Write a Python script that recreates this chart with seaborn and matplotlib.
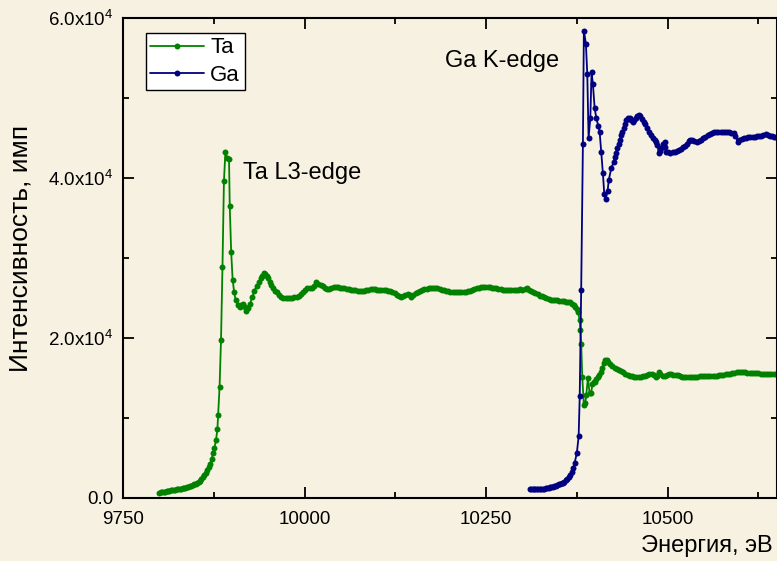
import matplotlib
matplotlib.use("Agg")
import matplotlib.pyplot as plt
from matplotlib.ticker import MultipleLocator, FuncFormatter
import pandas as pd
import seaborn as sns

# Ta L3-edge scan: (energy, eV; intensity, counts)
ta_points = [
    (9800, 660), (9802, 690), (9804, 720), (9806, 760), (9808, 800), (9810, 840),
    (9812, 880), (9814, 910), (9816, 940), (9818, 980), (9820, 1020), (9822, 1060),
    (9824, 1100), (9826, 1130), (9828, 1150), (9830, 1170), (9832, 1200), (9834, 1240),
    (9836, 1290), (9838, 1350), (9840, 1400), (9842, 1460), (9844, 1520), (9846, 1600),
    (9848, 1690), (9850, 1800), (9852, 1920), (9854, 2050), (9856, 2180), (9858, 2350),
    (9860, 2580), (9862, 2820), (9864, 3100), (9866, 3450), (9868, 3850), (9870, 4300),
    (9872, 4850), (9874, 5600), (9876, 6300), (9878, 7200), (9880, 8600), (9881, 10400),
    (9883, 13900), (9885, 19800), (9887, 28900), (9889, 39600), (9891, 43200),
    (9893.5, 42500), (9896, 42400), (9897, 36500), (9899, 30700), (9901, 27300),
    (9903, 25800), (9905, 24800), (9908, 24100), (9911, 23900), (9913, 24100),
    (9915.5, 24300), (9918, 23900), (9920, 23400), (9922, 23700), (9925, 24300),
    (9928, 25100), (9931, 25900), (9934, 26500), (9937, 27000), (9940, 27500),
    (9942, 27800), (9944, 28100), (9946, 28000), (9948, 27800), (9950, 27500),
    (9952, 27000), (9954, 26600), (9956, 26200), (9959, 25900), (9962, 25700),
    (9965, 25400), (9968, 25150), (9971, 25000), (9974, 24950), (9977, 24950),
    (9980, 25000), (9983, 25050), (9986, 25100), (9989, 25150), (9992, 25200),
    (9995, 25450), (9998, 25800), (10001, 26000), (10004, 26250), (10007, 26300),
    (10010, 26200), (10013, 26450), (10016, 26950), (10019, 26800), (10022, 26600),
    (10025, 26450), (10028, 26300), (10031, 26150), (10034, 26150), (10037, 26250),
    (10040, 26350), (10043, 26400), (10046, 26350), (10049, 26300), (10052, 26250),
    (10055, 26200), (10058, 26150), (10061, 26100), (10064, 26050), (10067, 26000),
    (10070, 25950), (10073, 25900), (10076, 25900), (10079, 25850), (10082, 25900),
    (10085, 25950), (10088, 26050), (10091, 26100), (10094, 26150), (10097, 26100),
    (10100, 26050), (10103, 26050), (10106, 26000), (10109, 26000), (10112, 25950),
    (10115, 25900), (10118, 25850), (10121, 25800), (10124, 25600), (10127, 25400),
    (10130, 25200), (10133, 25150), (10136, 25250), (10139, 25350), (10142, 25450),
    (10145, 25350), (10147, 25150), (10150, 25350), (10153, 25600), (10156, 25800),
    (10159, 25900), (10162, 26000), (10165, 26100), (10168, 26150), (10171, 26200),
    (10174, 26250), (10177, 26300), (10180, 26250), (10183, 26200), (10186, 26100),
    (10189, 26000), (10192, 25950), (10195, 25900), (10198, 25850), (10201, 25800),
    (10204, 25800), (10207, 25750), (10210, 25750), (10213, 25700), (10216, 25700),
    (10219, 25750), (10222, 25800), (10225, 25850), (10228, 25900), (10231, 26000),
    (10234, 26100), (10237, 26200), (10240, 26300), (10243, 26350), (10246, 26400),
    (10249, 26400), (10252, 26400), (10255, 26350), (10258, 26300), (10261, 26250),
    (10264, 26200), (10267, 26150), (10270, 26100), (10273, 26050), (10276, 26000),
    (10279, 26000), (10282, 25950), (10285, 26000), (10288, 26000), (10291, 26050),
    (10294, 26050), (10297, 26100), (10300, 26000), (10303, 26150), (10306, 26250),
    (10309, 26050), (10312, 25900), (10315, 25750), (10318, 25600), (10321, 25450),
    (10324, 25300), (10327, 25200), (10330, 25100), (10333, 25000), (10336, 24900),
    (10339, 24800), (10342, 24750), (10345, 24700), (10348, 24700), (10351, 24650),
    (10354, 24650), (10357, 24600), (10360, 24550), (10363, 24500), (10366, 24450),
    (10369, 24300), (10371, 24150), (10373, 23900), (10375, 23600), (10376.5, 23300),
    (10379, 22250), (10380, 21000), (10381, 19300), (10382.5, 15100), (10384.7, 11600),
    (10386.6, 11850), (10388, 12900), (10390.3, 15000), (10392.6, 13100),
    (10394.9, 13100), (10396.3, 14300), (10398, 14450), (10400, 14550), (10402, 14850),
    (10404, 15150), (10406, 15400), (10408, 15700), (10410, 16300), (10412, 16900),
    (10414, 17300), (10416, 17200), (10418, 17000), (10421, 16750), (10424, 16450),
    (10427, 16250), (10430, 16100), (10433, 15950), (10436, 15850), (10439, 15750),
    (10442, 15500), (10445, 15350), (10448, 15300), (10451, 15200), (10454, 15100),
    (10457, 15100), (10460, 15100), (10463, 15150), (10466, 15200), (10469, 15250),
    (10472, 15350), (10475, 15450), (10478, 15500), (10481, 15400), (10484, 15150),
    (10486, 15300), (10488, 15750), (10490, 15450), (10493, 15300), (10496, 15200),
    (10499, 15350), (10502, 15500), (10505, 15450), (10508, 15350), (10511, 15350),
    (10514, 15350), (10517, 15250), (10520, 15150), (10523, 15100), (10526, 15100),
    (10529, 15100), (10532, 15150), (10535, 15150), (10538, 15150), (10541, 15150),
    (10544, 15200), (10547, 15200), (10550, 15200), (10553, 15250), (10556, 15250),
    (10559, 15250), (10562, 15300), (10565, 15300), (10568, 15300), (10571, 15350),
    (10574, 15350), (10577, 15400), (10580, 15450), (10583, 15500), (10586, 15550),
    (10589, 15600), (10592, 15650), (10595, 15700), (10598, 15750), (10601, 15750),
    (10604, 15700), (10607, 15700), (10610, 15650), (10613, 15650), (10616, 15650),
    (10619, 15600), (10622, 15600), (10625, 15600), (10628, 15550), (10631, 15550),
    (10634, 15550), (10637, 15500), (10640, 15500), (10643, 15450), (10646, 15450),
    (10649, 15450),
]

# Ga K-edge scan: (energy, eV; intensity, counts)
ga_points = [
    (10310, 1150), (10312, 1130), (10314, 1120), (10316, 1110), (10318, 1110),
    (10320, 1110), (10322, 1120), (10324, 1130), (10326, 1140), (10328, 1160),
    (10330, 1180), (10332, 1210), (10334, 1240), (10336, 1280), (10338, 1320),
    (10340, 1370), (10342, 1420), (10344, 1480), (10346, 1550), (10348, 1620),
    (10350, 1690), (10352, 1760), (10354, 1830), (10356, 1920), (10358, 2050),
    (10360, 2200), (10362, 2380), (10364, 2580), (10366, 2850), (10368, 3200),
    (10370, 3700), (10372, 4400), (10375, 5600), (10377.5, 7700), (10379, 12700),
    (10381, 26000), (10383.4, 44300), (10384.7, 58400), (10387.5, 56800),
    (10389.4, 53000), (10391.2, 45000), (10393.6, 47500), (10395.3, 53200),
    (10397.1, 51800), (10399.5, 48800), (10401.8, 47500), (10404.6, 46500),
    (10406.4, 45800), (10408.7, 43200), (10410.9, 40600), (10412.8, 38000),
    (10414.6, 37400), (10417.4, 38400), (10419.1, 39800), (10422.4, 41200),
    (10425.6, 42000), (10427.5, 42600), (10429.3, 43100), (10431, 43700),
    (10432.9, 44250), (10434.5, 44800), (10436.2, 45400), (10437.8, 45800),
    (10439.4, 46200), (10441.2, 46700), (10443.1, 47250), (10445.3, 47450),
    (10447.6, 47450), (10450, 47250), (10452.2, 47050), (10454.3, 47250),
    (10456.3, 47500), (10458.4, 47750), (10460.4, 47850), (10462.5, 47700),
    (10465, 47400), (10467, 47050), (10469.5, 46700), (10472, 46300), (10474.5, 45800),
    (10477, 45350), (10479.5, 44950), (10482, 44750), (10484.5, 44550), (10486, 44100),
    (10488, 43100), (10490, 43400), (10491.5, 43700), (10494, 44200), (10495.8, 44550),
    (10497, 43900), (10498.5, 43300), (10501, 43200), (10504, 43150), (10507, 43200),
    (10510, 43300), (10513, 43400), (10516, 43500), (10519, 43650), (10521.5, 43850),
    (10524, 44050), (10526.5, 44300), (10529, 44600), (10531.5, 44750), (10534, 44700),
    (10537, 44600), (10540, 44550), (10543, 44600), (10546, 44800), (10549, 44950),
    (10552, 45150), (10555, 45350), (10558, 45500), (10561, 45650), (10564, 45750),
    (10567, 45800), (10570, 45800), (10573, 45800), (10576, 45800), (10579, 45750),
    (10582, 45750), (10585, 45700), (10588, 45650), (10591, 45600), (10593.5, 45300),
    (10596.5, 44550), (10599, 44700), (10602, 44900), (10605, 45000), (10608, 45050),
    (10611, 45100), (10614, 45100), (10617, 45150), (10620, 45150), (10623, 45200),
    (10626, 45250), (10629, 45300), (10632, 45400), (10635, 45450), (10638, 45400),
    (10641, 45300), (10644, 45200), (10647, 45100), (10649, 45100),
]

series_names = ["Ta", "Ga"]
series_colors = {"Ta": "#008200", "Ga": "#000080"}
x_ticks = [9750, 10000, 10250, 10500]
y_ticks = [0, 20000, 40000, 60000]

BG = "#f7f1e1"

sns.set_style("ticks")
plt.rcParams["font.family"] = ["Liberation Sans", "DejaVu Sans"]
plt.rcParams["mathtext.fontset"] = "custom"
plt.rcParams["mathtext.rm"] = "Liberation Sans"
plt.rcParams["mathtext.it"] = "Liberation Sans:italic"
for key in ("text.color", "axes.labelcolor", "xtick.color", "ytick.color"):
    plt.rcParams[key] = "black"

frames = []
for name, pts in (("Ta", ta_points), ("Ga", ga_points)):
    part = pd.DataFrame(pts, columns=["energy", "counts"])
    part["series"] = name
    frames.append(part)
df = pd.concat(frames, ignore_index=True)

fig = plt.figure(figsize=(7.77, 5.61), dpi=100, facecolor=BG)
ax = fig.add_axes([123 / 777, 63 / 561, 653.5 / 777, 480 / 561])
ax.set_facecolor(BG)

sns.lineplot(
    data=df, x="energy", y="counts", hue="series", hue_order=series_names,
    palette=series_colors, estimator=None, sort=False, ax=ax,
    marker="o", markersize=4.3, markeredgewidth=0, linewidth=1.3,
)

ax.set_xlim(9750, 10650)
ax.set_ylim(0, 60000)
ax.set_xticks(x_ticks)
ax.set_yticks(y_ticks)
ax.xaxis.set_minor_locator(MultipleLocator(125))
ax.yaxis.set_minor_locator(MultipleLocator(10000))


def sci_label(v, _pos):
    if v == 0:
        return "0.0"
    return f"{v / 1e4:.1f}x10$^{{4}}$"


ax.yaxis.set_major_formatter(FuncFormatter(sci_label))

for side in ax.spines.values():
    side.set_linewidth(1.5)
    side.set_color("black")
ax.tick_params(which="both", direction="in", top=True, right=True,
               color="black", labelcolor="black", width=1.3, labelsize=13.5)
ax.tick_params(which="major", length=8)
ax.tick_params(which="minor", length=4)
ax.tick_params(axis="x", pad=9)
ax.tick_params(axis="y", pad=7)

ax.set_xlabel("Энергия, эВ", fontsize=17, color="black")
ax.xaxis.set_label_coords(0.9946, -0.078)
ax.xaxis.label.set_ha("right")
ax.set_ylabel("Интенсивность, имп", fontsize=19, color="black")
ax.yaxis.set_label_coords(-0.139, 0.52)

ax.text(9915, 40600, "Ta L3-edge", fontsize=17, va="center", ha="left", color="black")
ax.text(10193, 54600, "Ga K-edge", fontsize=17, va="center", ha="left", color="black")

leg = ax.legend(loc="upper left", bbox_to_anchor=(0.035, 0.969), fontsize=16,
                frameon=True, fancybox=False, framealpha=1, facecolor="white",
                edgecolor="black", handlelength=2.4, handletextpad=0.3,
                borderpad=0.2, labelspacing=0.3, borderaxespad=0)
leg.get_frame().set_linewidth(1.0)
for txt in leg.get_texts():
    txt.set_color("black")

fig.savefig("out.png", dpi=100, facecolor=BG)
